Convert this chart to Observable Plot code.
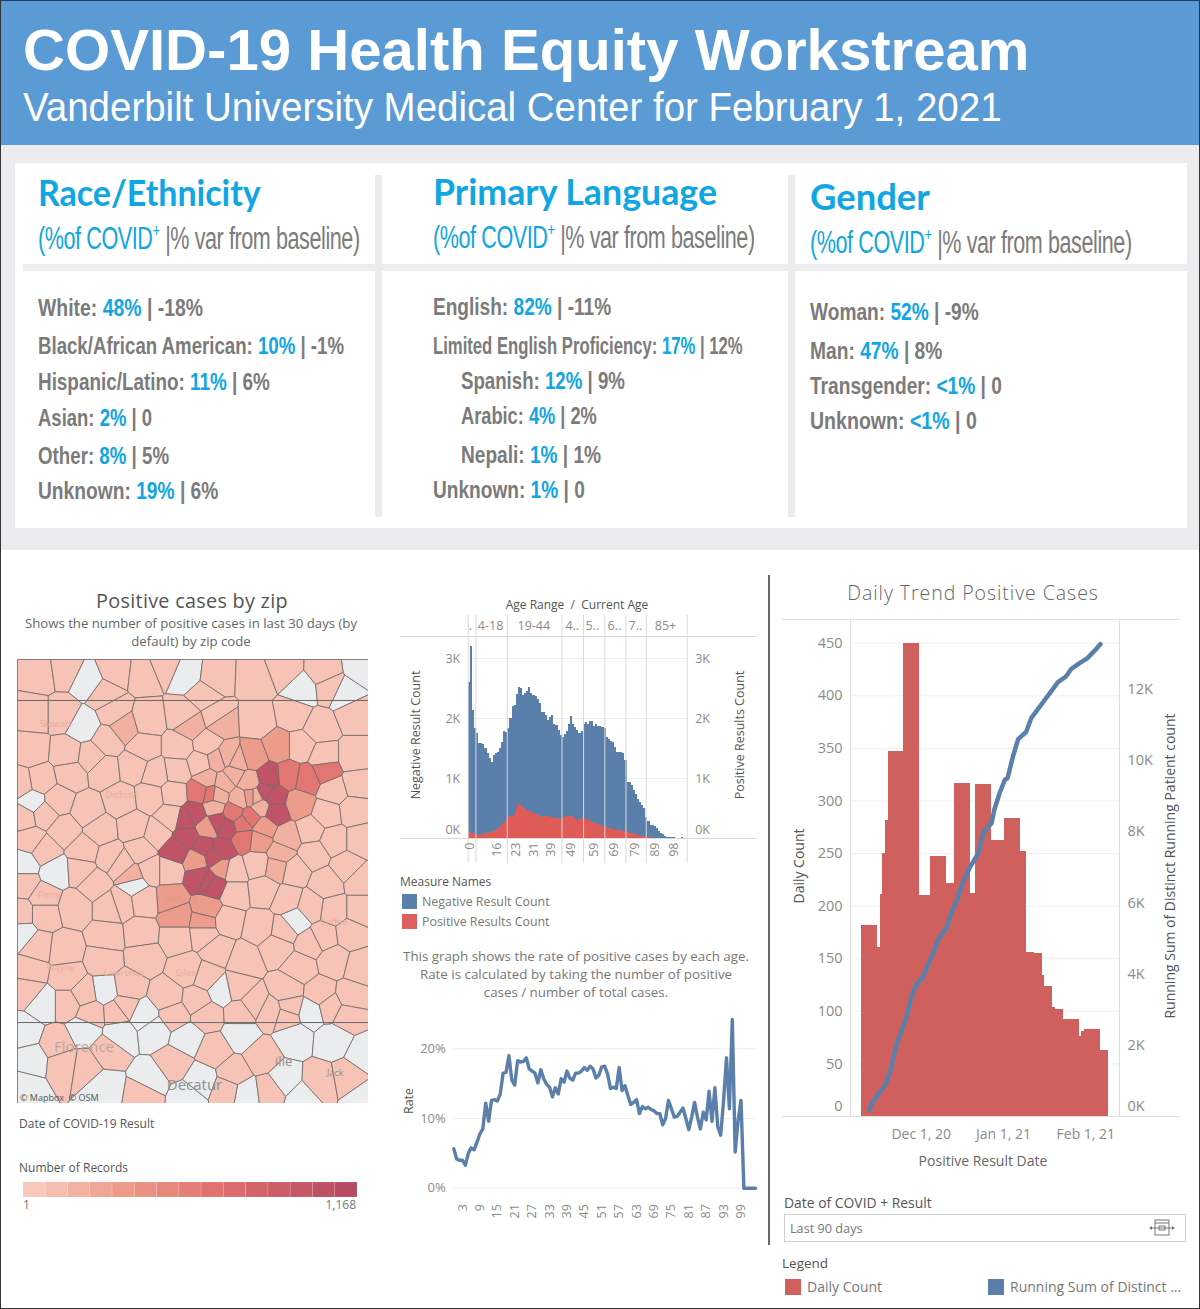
<!DOCTYPE html>
<html>
<head>
<meta charset="utf-8">
<script src="https://cdn.jsdelivr.net/npm/d3@7"></script>
<script src="https://cdn.jsdelivr.net/npm/@observablehq/plot@0.6"></script>
<style>
html,body{margin:0;padding:0;background:#fff;}
#page{position:relative;width:1200px;height:1309px;overflow:hidden;font-family:"Open Sans",sans-serif;background:#fff;}
#page svg{position:absolute;background:none;overflow:visible;}
.t{position:absolute;white-space:pre;line-height:1;}
.box{position:absolute;}
.cy{color:#10a6e4;}
</style>
</head>
<body>
<div id="page"></div>
<script>
// ---------- text panels: label, % of COVID+, var from baseline ----------
const raceRows = [["White: ","48%"," | -18%",308,165],["Black/African American: ","10%"," | -1%",346,306],["Hispanic/Latino: ","11%"," | 6%",382,232],["Asian: ","2%"," | 0",418,114],["Other: ","8%"," | 5%",456,131],["Unknown: ","19%"," | 6%",491,180]];
const langRows = [["English: ","82%"," | -11%",307,178,433],["Limited English Proficiency: ","17%"," | 12%",346,310,433],["Spanish: ","12%"," | 9%",381,164,461],["Arabic: ","4%"," | 2%",416,136,461],["Nepali: ","1%"," | 1%",455,140,461],["Unknown: ","1%"," | 0",490,152,433]];
const genderRows = [["Woman: ","52%"," | -9%",312,169],["Man: ","47%"," | 8%",351,132],["Transgender: ","<1%"," | 0",386,192],["Unknown: ","<1%"," | 0",421,167]];

// ---------- age chart ----------
const negativeByAge = [2.6,3.2,2.13,1.83,1.75,1.58,1.58,1.56,1.5,1.42,1.33,1.27,1.39,1.42,1.44,1.5,1.6,1.78,1.76,1.83,2.0,2.2,2.22,2.4,2.52,2.5,2.38,2.42,2.45,2.52,2.42,2.38,2.36,2.32,2.25,2.1,2.1,2.05,1.97,2.02,2.05,1.9,1.88,1.8,1.72,1.68,1.74,1.78,1.9,2.03,1.9,1.85,1.8,1.75,1.78,1.9,1.93,1.9,1.95,1.95,1.87,1.9,1.87,1.87,1.85,1.83,1.68,1.65,1.62,1.6,1.52,1.43,1.44,1.44,1.42,1.3,0.93,0.93,0.88,0.8,0.73,0.65,0.6,0.55,0.5,0.35,0.28,0.22,0.21,0.2,0.17,0.12,0.09,0.06,0.04,0.02,0.015,0.01,0.01,0.008,0,0.006,0.012,0];
const positiveByAge = [0.14,0.1,0.08,0.06,0.05,0.05,0.06,0.07,0.08,0.09,0.1,0.11,0.12,0.14,0.17,0.2,0.23,0.27,0.31,0.35,0.37,0.36,0.4,0.5,0.58,0.55,0.52,0.5,0.47,0.46,0.44,0.42,0.4,0.38,0.36,0.35,0.37,0.36,0.36,0.35,0.35,0.34,0.34,0.33,0.33,0.34,0.35,0.36,0.36,0.37,0.36,0.33,0.3,0.31,0.34,0.33,0.31,0.3,0.28,0.27,0.25,0.24,0.23,0.21,0.2,0.19,0.18,0.17,0.16,0.15,0.14,0.14,0.15,0.14,0.12,0.11,0.1,0.09,0.08,0.07,0.06,0.05,0.04,0.04,0.03,0.02,0.015,0.01,0.008,0.006,0.004,0.003,0.002,0.001,0,0,0,0,0,0,0,0,0,0];
const ageBandEdges = [3.7,18.7,44.9,55.2,65.4,75.5,85.2,104.8];
const ageBandLabels = [".","4-18","19-44","4..","5..","6..","7..","85+"];
const ageBandCenters = [1,10.7,31.4,49.8,59.4,70,80,94.4];
const ageTickLabels = ["0","16","23","31","39","49","59","69","79","89","98"];
const ageTickPlaces = [0.8,13.6,23.1,31.4,39.7,49.4,60,70,79.6,89.6,98.4];

// ---------- rate line ----------
const rateByAge = [5.65,4.2,4.0,4.0,3.3,5.0,5.8,5.5,6.6,7.8,8.5,12.2,9.6,12.6,12.7,12.5,13.5,16.5,16.6,19.0,15.5,14.8,18.3,18.1,18.2,18.7,17.1,16.8,16.5,15.1,17.0,15.7,14.9,14.5,13.1,14.4,13.5,15.7,15.2,16.8,15.8,15.5,16.5,16.5,16.8,17.3,16.9,17.5,17.1,15.8,16.2,17.4,17.5,16.4,14.3,14.5,14.3,17.3,14.0,14.7,13.3,12.0,12.3,12.7,10.7,11.7,11.4,11.6,11.3,11.1,10.7,10.7,9.1,10.0,12.6,11.4,10.2,10.3,10.9,11.5,10.0,8.4,10.2,12.3,10.2,8.5,10.9,9.8,13.9,9.6,14.4,8.8,7.6,12.6,18.7,11.4,24.2,5.2,9.7,12.6,0,0,0,0,0];
const rateTicks = [3,9,15,21,27,33,39,45,51,57,63,69,75,81,87,93,99];

// ---------- daily trend ----------
const dailyStarts = ["2020-11-09","2020-11-15","2020-11-16","2020-11-17","2020-11-18","2020-11-19","2020-11-25","2020-12-01","2020-12-05","2020-12-11","2020-12-14","2020-12-20","2020-12-22","2020-12-28","2021-01-02","2021-01-08","2021-01-10","2021-01-13","2021-01-16","2021-01-17","2021-01-20","2021-01-21","2021-01-24","2021-01-30","2021-01-31","2021-02-01","2021-02-07","2021-02-10"];
const dailyCounts = [182,161,211,250,281,347,450,210,247,222,317,212,316,262,283,252,156,155,134,124,104,102,92,76,81,83,63];
const runDates = ["2020-11-12","2020-11-13","2020-11-15","2020-11-18","2020-11-20","2020-11-22","2020-11-24","2020-11-26","2020-11-28","2020-11-30","2020-12-02","2020-12-04","2020-12-06","2020-12-08","2020-12-11","2020-12-13","2020-12-15","2020-12-17","2020-12-20","2020-12-23","2020-12-25","2020-12-28","2020-12-29","2020-12-31","2021-01-02","2021-01-03","2021-01-05","2021-01-07","2021-01-10","2021-01-12","2021-01-15","2021-01-17","2021-01-20","2021-01-22","2021-01-25","2021-01-27","2021-01-30","2021-02-02","2021-02-05","2021-02-07"];
const runSumK = [0.19,0.37,0.6,0.89,1.31,1.97,2.39,2.81,3.42,3.75,3.89,4.26,4.59,5.0,5.29,5.76,6.09,6.55,7.02,7.4,8.0,8.24,8.61,9.08,9.46,9.5,10.1,10.6,10.8,11.2,11.5,11.7,12.0,12.2,12.36,12.57,12.73,12.87,13.1,13.27];
const dateTicks = ["2020-12-01","2021-01-01","2021-02-01"];
const dateTickLabels = ["Dec 1, 20","Jan 1, 21","Feb 1, 21"];

// ---------- zip map: approximate zip centres, by colour class ----------
const zipsNoData = [[262,95],[560,75],[905,118],[1032,130],[1085,50],[248,225],[95,455],[70,640],[165,665],[400,700],[885,810],[62,850],[315,1020],[662,1020],[128,1060],[930,1085],[430,1098],
 [70,1145],[360,1150],[460,1140],[560,1165],[720,1150],[880,1160],[1000,1170],[1090,1215],[70,1310],[310,1310],[560,1340],[905,1345],[1090,1345],[450,1290],[735,1330],[600,1290],[250,1140],[850,1290],[90,1230]];
const zipsFew = [[120,70],[190,60],[345,60],[430,70],[490,45],[640,85],[770,90],[850,60],[970,65],
 [100,190],[185,190],[340,185],[440,210],[550,195],[650,200],[770,210],[880,190],[960,230],[1060,190],[310,130],[610,130],[990,110],
 [90,300],[200,310],[320,270],[430,290],[535,290],[620,280],[900,290],[970,320],[1060,320],[270,320],
 [120,390],[210,370],[310,360],[400,350],[530,360],[600,340],[1000,420],[1070,400],[465,370],
 [70,500],[170,450],[260,480],[360,450],[450,440],[520,430],[980,490],[1060,480],[60,400],[130,490],
 [90,570],[190,540],[300,540],[400,530],[510,500],[930,540],[1000,570],[1080,570],
 [130,600],[250,600],[330,620],[420,600],[470,550],[940,610],[1040,650],[240,660],[70,700],
 [130,740],[280,700],[360,640],[360,760],[450,660],[505,660],[700,660],[770,640],[880,660],[980,700],[1080,690],
 [130,790],[220,770],[330,770],[430,750],[700,730],[790,720],[860,750],[1000,780],[1080,780],[930,770],[850,840],[930,880],
 [110,890],[190,900],[320,860],[420,850],[530,860],[610,850],[680,810],[780,830],[970,860],[1050,850],[60,790],
 [90,960],[200,980],[310,930],[430,920],[560,960],[650,900],[730,930],[830,890],[900,950],[1000,930],[1080,950],
 [80,1020],[200,1060],[250,1030],[380,1010],[500,1040],[590,1050],[620,980],[710,1010],[760,1060],[860,1020],[960,1030],[1050,1040],[370,1070],[870,1070],[990,1070],
 [270,1090],[350,1085],[520,1095],[620,1095],[720,1090],[810,1085],[860,1100],[1040,1095],
 [170,1180],[190,1240],[320,1205],[255,1250],[520,1240],[640,1200],[700,1270],[785,1220],[960,1295],[1045,1280],[430,1330],[810,1320],[680,1320]];
const zipsSome = [[680,320],[720,445],[670,395],[700,370],[745,395],[765,440],[620,385],[840,610],[860,560],[650,435],[395,680],[650,330],[710,335],[370,230],[660,215],[570,225],[830,650],[640,470],[780,470]];
const zipsMid = [[758,320],[835,290],[895,460],[510,745],[620,775],[530,800],[610,815],[790,530],[620,530],[590,630],[662,652],[750,440],[775,570]];
const zipsHigh = [[865,375],[920,385],[975,360],[750,500],[730,565],[598,425],[630,432],[700,488],[725,520]];
const zipsDark = [[585,490],[555,510],[680,530],[650,515],[560,560],[525,600],[610,590],[665,600],[640,620],[620,690],[640,705],[600,680],[805,380],[795,425],[820,440],[825,485]];
const zipClassCases = {noData:0,few:35,some:170,mid:330,high:640,dark:1050};
const legendStepCases = [1,84,168,251,334,418,501,584,668,751,834,918,1001,1084,1168];
const mapTexts = [["Florence",250,1190,15,"#bfa39b"],["Decatur",582,1305,15,"#8d8d8d"],["ille",850,1235,13,"#9a8c88"],["Jack",1005,1270,9,"#9a8c88"],
 ["Stewart",165,222,9,"#e8ad9f"],["Perry",145,735,9,"#e8ad9f"],["Wayne",180,955,9,"#e8ad9f"],["Lawrence",370,970,9,"#e8ad9f"],["Giles",555,970,9,"#e8ad9f"],["Maury",540,745,11,"#e4998a"],["Coffee",1000,815,9,"#e8ad9f"],["Dickson",365,435,9,"#e8ad9f"]];

// ---------- helpers ----------
const page = document.getElementById("page");
function box(x,y,w,h,bg){const d=document.createElement("div");d.className="box";d.style.cssText=`left:${x}px;top:${y}px;width:${w}px;height:${h}px;background:${bg}`;page.appendChild(d);return d;}
function txt(html,x,y,o={}){const d=document.createElement("div");d.className="t";d.innerHTML=html;
 const ax=o.anchor==="middle"?"-50%":o.anchor==="end"?"-100%":"0";
 d.style.cssText=`left:${x}px;top:${y}px;font-family:${o.font||'"Open Sans",sans-serif'};font-size:${o.size||13}px;font-weight:${o.weight||400};color:${o.color||"#8a8a8a"};letter-spacing:${o.ls||0}px;text-align:${o.anchor==="middle"?"center":"left"};${o.extra||""}`;
 page.appendChild(d);
 let tr=`translate(${ax},-50%)`;
 if(o.fit){d.style.transformOrigin="left center";tr+=` scaleX(${o.fit/d.offsetWidth})`;}
 if(o.rotate)tr+=` rotate(${o.rotate}deg)`;
 d.style.transform=tr;
 return d;}
function put(svg,x,y){svg.style.left=x+"px";svg.style.top=y+"px";page.appendChild(svg);return svg;}

const RED="#d0605e", BLUE="#5b7fab", GREY="#8b8b8b", DARK="#555";
const FF='"Open Sans",sans-serif';

// ---------- page furniture ----------
box(0,0,1200,145,"#5b9bd5");
box(0,145,1200,405,"#ececee");
box(15,163,1172,365,"#ffffff");
box(375,175,7,342,"#ececee");
box(788,175,7,342,"#ececee");
box(23,264,1165,7,"#ececee");

txt("COVID-19 Health Equity Workstream",23,50,{font:'"Liberation Sans",sans-serif',size:58,weight:700,color:"#fff",fit:1007});
txt("Vanderbilt University Medical Center for February 1, 2021",23,107,{font:'"Liberation Sans",sans-serif',size:40,color:"#fff",fit:979});

const HEAD='Lato,sans-serif', COND='"Liberation Sans",sans-serif';
function sub(x,y){txt(`<span class="cy">(%of COVID<sup style="font-size:60%;line-height:0">+</sup></span> |% var from baseline)`,x,y,{font:COND,size:31,color:"#7b7b7b",fit:322,ls:-0.6});}
txt("Race/Ethnicity",38,191,{font:HEAD,size:37,weight:700,color:"#10a6e4",fit:223});
txt("Primary Language",433,190,{font:HEAD,size:37,weight:700,color:"#10a6e4",fit:284});
txt("Gender",810,195,{font:HEAD,size:37,weight:700,color:"#10a6e4",fit:120});
sub(38,238);sub(433,237);sub(810,242);
function row(r,x){txt(`${r[0]}<span class="cy">${r[1]}</span>${r[2]}`,x,r[3],{font:COND,size:24,weight:700,color:"#7b7b7b",fit:r[4]});}
raceRows.forEach(r=>row(r,38));
langRows.forEach(r=>row(r,r[5]));
genderRows.forEach(r=>row(r,810));

// ---------- map ----------
const zips = [
 ...zipsNoData.map(p=>({x:p[0],y:p[1],n:zipClassCases.noData})),
 ...zipsFew.map(p=>({x:p[0],y:p[1],n:zipClassCases.few})),
 ...zipsSome.map(p=>({x:p[0],y:p[1],n:zipClassCases.some})),
 ...zipsMid.map(p=>({x:p[0],y:p[1],n:zipClassCases.mid})),
 ...zipsHigh.map(p=>({x:p[0],y:p[1],n:zipClassCases.high})),
 ...zipsDark.map(p=>({x:p[0],y:p[1],n:zipClassCases.dark}))];
const mapColor = {type:"linear",domain:[0,0.9,1,300,700,1168],range:["#eaecee","#eaecee","#f7c8bb","#ee9f8c","#df6f6d","#b64b63"]};
txt("Positive cases by zip",192,601,{size:19.8,color:"#555",ls:0.3,anchor:"middle"});
txt("Shows the number of positive cases in last 30 days (by<br>default) by zip code",191,632,{size:13.2,color:"#666",anchor:"middle",extra:"line-height:18px;"});
box(17,659,351,444,"#f7c8bb");
const defs=document.createElementNS("http://www.w3.org/2000/svg","svg");
defs.setAttribute("width","0");defs.setAttribute("height","0");
defs.innerHTML=`<filter id="wob" x="-3%" y="-3%" width="106%" height="106%" color-interpolation-filters="sRGB"><feTurbulence type="fractalNoise" baseFrequency="0.14" numOctaves="2" seed="7"/><feDisplacementMap in="SourceGraphic" scale="13" xChannelSelector="R" yChannelSelector="G"/></filter>`;
page.appendChild(defs);
const mapSvg=put(Plot.plot({width:351,height:444,margin:0,
 x:{domain:[50,1105],axis:null},y:{domain:[27,1360],range:[0,444],axis:null},color:mapColor,
 marks:[
  Plot.voronoi(zips,{x:"x",y:"y",z:null,fill:"n",stroke:"#6f6a6a",strokeWidth:0.8,ariaLabel:"zip cells"}),
  Plot.ruleY([150,1117],{stroke:"#666",strokeWidth:1}),
  Plot.text(mapTexts,{x:d=>d[1],y:d=>d[2],text:d=>d[0],fontSize:d=>d[3],fill:d=>d[4],fontFamily:FF})
 ]}),17,659);
const cells=mapSvg.querySelector('g[aria-label="zip cells"]');
if(cells)cells.setAttribute("filter","url(#wob)");
mapSvg.style.clipPath="inset(0)";
mapSvg.style.overflow="hidden";
txt("© Mapbox  © OSM",20,1097,{size:9,color:"#555"});
txt("Date of COVID-19 Result",19,1124,{size:12,color:"#555"});
txt("Number of Records",19,1168,{size:12,color:"#555"});
put(Plot.plot({width:334,height:15,margin:0,x:{domain:[0,15],axis:null},y:{domain:[0,1],axis:null},color:mapColor,
 marks:[Plot.rect(legendStepCases,{x1:(d,i)=>i,x2:(d,i)=>i+1,y1:0,y2:1,fill:d=>d,stroke:"#fff",strokeOpacity:0.12})]}),23,1182);
txt("1",23,1205,{size:12,color:"#777"});
txt("1,168",356,1205,{size:12,color:"#777",anchor:"end"});

// ---------- age chart ----------
const ages = negativeByAge.map((v,i)=>({age:i,neg:v,pos:positiveByAge[i]}));
const fk = d=>d+"K";
txt("Age Range  /  Current Age",577,605,{size:12,color:"#555",anchor:"middle"});
txt("Negative Result Count",416,735,{size:12.5,color:"#555",anchor:"middle",rotate:-90});
txt("Positive Results Count",740,735,{size:12.5,color:"#555",anchor:"middle",rotate:-90});
box(400,636,356,1,"#d8d8d8");box(400,838,356,1,"#d8d8d8");
put(Plot.plot({width:380,height:280,marginLeft:77.7,marginRight:83.3,marginTop:53,marginBottom:32,
 x:{domain:[0,104.8],axis:null},y:{domain:[0,3.25],axis:null},style:{fontFamily:FF},
 marks:[
  Plot.gridY([1,2,3],{stroke:"#eee",strokeOpacity:1}),
  Plot.rectY(ages,{x1:"age",x2:d=>d.age+1,y1:0,y2:"neg",fill:BLUE,shapeRendering:"crispEdges"}),
  Plot.rectY(ages,{x1:"age",x2:d=>d.age+1,y1:0,y2:"pos",fill:"#de5b57",shapeRendering:"crispEdges"}),
  Plot.ruleX([0,...ageBandEdges],{y1:-0.42,y2:3.72,stroke:"#d9d9d9",strokeWidth:1}),
  Plot.text(ageBandLabels,{x:(d,i)=>ageBandCenters[i],y:3.55,text:d=>d,fill:GREY,fontSize:12.5}),
  Plot.text(ageTickLabels,{x:(d,i)=>ageTickPlaces[i],y:0,dy:4,text:d=>d,rotate:-90,textAnchor:"end",fill:GREY,fontSize:12.5}),
  Plot.axisY({ticks:[1,2,3],tickFormat:fk,anchor:"left",tickSize:0,tickPadding:8,label:null,fill:GREY,fontSize:12.5}),
  Plot.axisY({ticks:[1,2,3],tickFormat:fk,anchor:"right",tickSize:0,tickPadding:8,label:null,fill:GREY,fontSize:12.5}),
  Plot.axisY({ticks:[0],tickFormat:fk,anchor:"left",tickSize:0,tickPadding:8,label:null,fill:GREY,fontSize:12.5,dy:-9}),
  Plot.axisY({ticks:[0],tickFormat:fk,anchor:"right",tickSize:0,tickPadding:8,label:null,fill:GREY,fontSize:12.5,dy:-9})
 ]}),390,590);

// legend + note
txt("Measure Names",400,882,{size:12,color:"#555"});
box(402,894,15,15,BLUE);txt("Negative Result Count",422,902,{size:12.4,color:"#777"});
box(402,914,15,15,"#dc5f5f");txt("Positive Results Count",422,922,{size:12.4,color:"#777"});
txt("This graph shows the rate of positive cases by each age.<br>Rate is calculated by taking the number of positive<br>cases / number of total cases.",576,974,{size:13.35,color:"#777",anchor:"middle",extra:"line-height:18px;"});

// ---------- rate chart ----------
const rates = rateByAge.map((v,i)=>({age:i,rate:v}));
txt("Rate",409,1101,{size:12.5,color:"#555",anchor:"middle",rotate:-90});
put(Plot.plot({width:380,height:230,marginLeft:63.3,marginRight:15,marginTop:13.4,marginBottom:42.3,
 x:{domain:[0,104],axis:null},y:{domain:[0,25],axis:null},style:{fontFamily:FF},
 marks:[
  Plot.gridY([0,10,20],{stroke:"#efefef",strokeOpacity:1}),
  Plot.line(rates,{x:"age",y:"rate",stroke:BLUE,strokeWidth:3.4,strokeLinejoin:"round"}),
  Plot.text(rateTicks,{x:d=>d,y:0,dy:16,text:d=>String(d),rotate:-90,textAnchor:"end",fill:GREY,fontSize:12.5}),
  Plot.axisY({ticks:[0,10,20],tickFormat:d=>d+"%",anchor:"left",tickSize:0,tickPadding:8,label:null,fill:GREY,fontSize:13})
 ]}),390,1000);

// ---------- daily chart ----------
box(768,575,1.5,670,"#666");
txt("Daily Trend Positive Cases",973,593,{size:19.5,weight:300,color:"#666",ls:0.95,anchor:"middle"});
box(782,619,398,1,"#dedede");box(782,1116,398,1,"#dedede");
txt("Daily Count",799,866,{size:14,color:"#555",anchor:"middle",rotate:-90});
txt("Running Sum of Distinct Running Patient count",1170,866,{size:14,color:"#555",anchor:"middle",rotate:-90});
const day = s=>new Date(s+"T00:00:00Z");
const halfDay = 12*3600e3;
const daily = dailyCounts.map((c,i)=>({a:new Date(+day(dailyStarts[i])-halfDay),b:new Date(+day(dailyStarts[i+1])-halfDay),c}));
const run = runDates.map((d,i)=>({d:new Date(+day(d)-halfDay),k:runSumK[i]}));
const xDays = {type:"utc",domain:[new Date(+day("2020-11-09")-halfDay),new Date(+day("2021-02-10")-halfDay)],range:[81,327.9],axis:null};
const common = {width:400,height:520,marginLeft:70,marginRight:61,marginTop:22.7,marginBottom:24,style:{fontFamily:FF},x:xDays};
put(Plot.plot({...common,y:{domain:[0,450],axis:null},
 marks:[
  Plot.gridY([50,100,150,200,250,300,350,400,450],{stroke:"#f1f1f1",strokeOpacity:1}),
  Plot.frame({anchor:"left",stroke:"#dcdcdc",insetTop:-22,insetBottom:0}),
  Plot.frame({anchor:"right",stroke:"#dcdcdc",insetTop:-22,insetBottom:0}),
  Plot.rectY(daily,{x1:"a",x2:"b",y1:0,y2:"c",fill:RED,shapeRendering:"crispEdges"}),
  Plot.axisY({ticks:[50,100,150,200,250,300,350,400,450],anchor:"left",tickSize:0,tickPadding:8,label:null,fill:GREY,fontSize:14.5}),
  Plot.axisY({ticks:[0],anchor:"left",tickSize:0,tickPadding:8,label:null,fill:GREY,fontSize:14.5,dy:-10}),
  Plot.text(dateTicks,{x:day,y:0,dy:18,text:(d,i)=>dateTickLabels[i],fill:GREY,fontSize:14})
 ]}),780,620);
put(Plot.plot({...common,y:{domain:[0,13.295],axis:null},
 marks:[
  Plot.line(run,{x:"d",y:"k",stroke:BLUE,strokeWidth:4.5,strokeLinejoin:"round"}),
  Plot.axisY({ticks:[2,4,6,8,10,12],tickFormat:fk,anchor:"right",tickSize:0,tickPadding:8,label:null,fill:GREY,fontSize:14.5}),
  Plot.axisY({ticks:[0],tickFormat:fk,anchor:"right",tickSize:0,tickPadding:8,label:null,fill:GREY,fontSize:14.5,dy:-10})
 ]}),780,620);
txt("Positive Result Date",983,1161,{size:14,weight:500,color:"#666",anchor:"middle"});
txt("Date of COVID + Result",784,1203,{size:13.9,color:"#555"});
const fb=box(784,1214,402,28,"#fff");fb.style.boxSizing="border-box";fb.style.border="1.5px solid #cfcfcf";
txt("Last 90 days",790,1228,{size:12.7,color:"#777"});
const icon=document.createElementNS("http://www.w3.org/2000/svg","svg");
icon.setAttribute("width","26");icon.setAttribute("height","18");icon.style.left="1149px";icon.style.top="1219px";
icon.innerHTML=`<g fill="none" stroke="#777" stroke-width="1"><rect x="6" y="1" width="14" height="15"/><line x1="6" y1="4" x2="20" y2="4"/><line x1="1" y1="9" x2="25" y2="9"/><rect x="10" y="7" width="6" height="4"/></g><path d="M0 9l3-2v4zM26 9l-3-2v4z" fill="#777"/>`;
page.appendChild(icon);
txt("Legend",782,1264,{size:13.5,color:"#555"});
box(785,1279,16,16,RED);txt("Daily Count",807,1287,{size:14,color:"#777"});
box(988,1279,16,16,BLUE);txt("Running Sum of Distinct ...",1010,1287,{size:14,color:"#777"});

// outer border
box(0,0,1200,1,"#1f3d66");box(0,1308,1200,1,"#333");box(0,0,1,1309,"#333");box(1199,0,1,1309,"#333");
</script>
</body>
</html>
